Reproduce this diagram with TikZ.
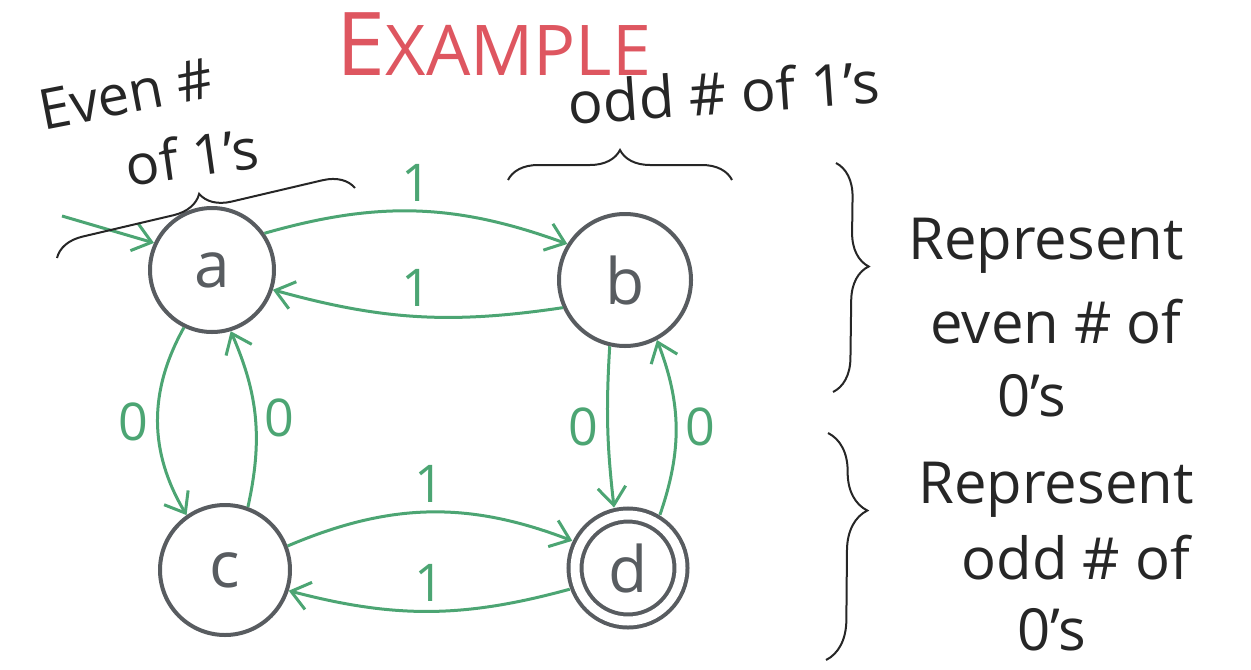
\documentclass[tikz,border=0pt]{standalone}
\usepackage{fontspec}
\setmainfont{Open Sans}
\usepackage{tikz}
\usetikzlibrary{arrows.meta}
\usetikzlibrary{decorations.pathreplacing}
\definecolor{edgegreen}{RGB}{76,165,115}
\definecolor{ringgray}{RGB}{88,92,96}
\definecolor{titlered}{RGB}{222,86,96}

\begin{document}
\begin{tikzpicture}[x=0.5pt,y=-0.5pt,
                state/.style={circle,draw=ringgray,line width=2pt,minimum size=64pt,inner sep=0pt,
                    text=ringgray,font=\fontsize{32}{32}\selectfont},
                final/.style={double=white,double distance=4.5pt,line width=2pt,outer sep=4.5pt},
                trans/.style={draw=edgegreen,line width=1.5pt,-{Straight Barb[length=9pt,width=14pt]}},
                sym/.style={text=edgegreen,font=\fontsize{26}{26}\selectfont,inner sep=4pt},
                note/.style={text=black!85,font=\fontsize{29}{30}\selectfont,inner sep=0pt},
                curly/.style={draw=black!85,line width=1pt,decorate,decoration={brace,amplitude=#1}}]
                \useasboundingbox (0,0) rectangle (1251,669);

                \node[text=titlered,font=\fontsize{35}{35}\selectfont,inner sep=0pt] (title) at (494,44)
                    {{\fontsize{44}{44}\selectfont E}XAMPLE};

                \node[state,minimum size=62pt] (a) at (212,270) {a};
                \node[state,minimum size=66pt] (b) at (625,280) {b};
                \node[state,minimum size=65pt] (c) at (225,570) {c};
                \node[state,final,minimum size=53pt] (d) at (628,568) {d};

                \coordinate (start) at (62,216);
                \draw[trans] (start)--(a.155);

                \draw[trans] (a.35) to[bend left=18] node[sym,above] {1} (b.148);
                \draw[trans] (b.204) to[bend left=12] node[sym,above] {1} (a.342);
                \draw[trans] (c.21) to[bend left=22] node[sym,above] {1} (d.154);
                \draw[trans] (d.200) to[bend left=15] node[sym,above] {1} (c.342);
                \draw[trans] (a.244) to[bend right=30] node[sym,left] {0} (c.125);
                \draw[trans] (c.70) to[bend right=18] node[sym,right] {0} (a.287);
                \draw[trans] (b.257) to[bend right=5] node[sym,left] {0} (d.103);
                \draw[trans] (d.59) to[bend right=20] node[sym,right] {0} (b.298);

                \node[note,rotate=11,font=\fontsize{28}{30}\selectfont] (evenhash) at (126,94) {Even \#};
                \node[note,rotate=8,font=\fontsize{28}{30}\selectfont] (evenof) at (192,156) {of 1's};
                \draw[curly=15pt] (57,258)--(355,188);

                \node[note,rotate=4] (oddones) at (724,92) {odd \# of 1's};
                \draw[curly=15pt] (508,180)--(732,180);

                \draw[curly=17pt,decoration={aspect=0.45}] (836,163)--(833,392);
                \node[note] (evenrep) at (1046,246) {Represent};
                \node[note] (evenof) at (1056,322) {even \# of};
                \node[note] (evenzeros) at (1032,396) {0's};

                \draw[curly=20pt,decoration={aspect=0.34}] (828,433)--(826,660);
                \node[note] (oddrep) at (1056,490) {Represent};
                \node[note] (oddof) at (1076,558) {odd \# of};
                \node[note] (oddzeros) at (1052,630) {0's};
            \end{tikzpicture}
\end{document}
